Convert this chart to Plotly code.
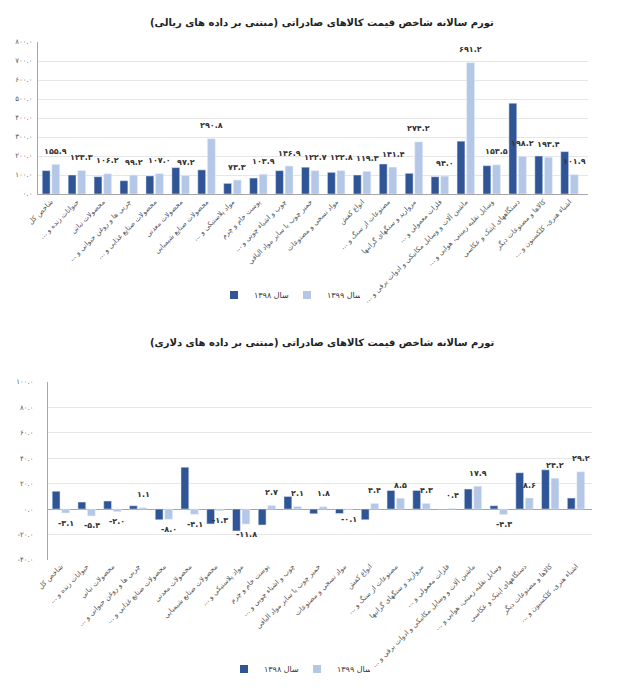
import plotly.graph_objects as go

RLM = "\u200F"

categories = [
    "شاخص کل",
    "حیوانات زنده و ...",
    "محصولات نباتی",
    "چربی ها و روغن حیوانی و ...",
    "محصولات صنایع غذایی و ...",
    "محصولات معدنی",
    "محصولات صنایع شیمیایی",
    "مواد پلاستیکی و ...",
    "پوست خام و چرم",
    "چوب و اشیاء چوبی و ...",
    "خمیر چوب یا سایر مواد الیافی",
    "مواد نسجی و مصنوعات",
    "انواع کفش",
    "مصنوعات از سنگ و ...",
    "مروارید و سنگهای گرانبها",
    "فلزات معمولی و ...",
    "ماشین آلات و وسایل مکانیکی و ادوات برقی و ...",
    "وسایل نقلیه زمینی، هوایی و ...",
    "دستگاههای اپتیک و عکاسی",
    "کالاها و مصنوعات دیگر",
    "اشیاء هنری، کلکسیون و ...",
]

# Rial based (top chart)
rial_1398 = [123, 100, 91, 70, 95, 139, 127, 56, 84, 123, 141,
             114, 100, 158, 109, 91, 278, 149, 478, 200, 223]
rial_1399 = [155.9, 123.3, 106.2, 99.2, 107.0, 97.2, 290.8, 73.3, 103.9, 146.9, 122.7,
             122.8, 119.3, 141.4, 274.2, 94.0, 691.2, 153.5, 198.2, 193.4, 101.9]

# Dollar based (bottom chart)
usd_1398 = [14.0, 5.5, 6.3, 2.6, -8.4, 32.9, -11.7, -17.2, -12.5, 9.9, -3.7,
            -3.5, -8.4, 14.6, 14.6, -0.5, 15.7, 2.6, 28.5, 30.8, 8.6]
usd_1399 = [-3.1, -5.4, -2.0, 1.1, -8.0, -4.1, -1.3, -11.8, 2.7, 2.1, 1.8,
            -0.1, 4.4, 8.5, 4.3, 0.4, 17.9, -4.3, 8.6, 24.2, 29.2]

top_ticks = [0, 100, 200, 300, 400, 500, 600, 700, 800]
bottom_ticks = [-40, -20, 0, 20, 40, 60, 80, 100]

series_names = ["سال ۱۳۹۸", "سال ۱۳۹۹"]
title_top = "تورم سالانه شاخص قیمت کالاهای صادراتی (مبتنی بر داده های ریالی)"
title_bottom = "تورم سالانه شاخص قیمت کالاهای صادراتی (مبتنی بر داده های دلاری)"

FA = str.maketrans("0123456789", "۰۱۲۳۴۵۶۷۸۹")


def fa(v):
    return f"{v:.1f}".translate(FA)


cats = [c + RLM for c in categories]

DARK = "#2F5597"
LIGHT = "#B4C7E7"
COLORS = [DARK, LIGHT]
FONT = "DejaVu Sans"
W, H = 644, 700

fig = go.Figure()
fig.add_trace(go.Bar(x=cats, y=rial_1398, name=series_names[0], marker_color=DARK,
                     xaxis="x", yaxis="y", showlegend=False))
fig.add_trace(go.Bar(x=cats, y=rial_1399, name=series_names[1], marker_color=LIGHT,
                     xaxis="x", yaxis="y", showlegend=False))
fig.add_trace(go.Bar(x=cats, y=usd_1398, name=series_names[0], marker_color=DARK,
                     xaxis="x2", yaxis="y2", showlegend=False))
fig.add_trace(go.Bar(x=cats, y=usd_1399, name=series_names[1], marker_color=LIGHT,
                     xaxis="x2", yaxis="y2", showlegend=False))

# legend entries (small square swatches)
for lg, xa, ya in [("legend", "x", "y"), ("legend2", "x2", "y2")]:
    for name, col in zip(series_names, COLORS):
        fig.add_trace(go.Scatter(x=[None], y=[None], mode="markers", name=name,
                                 marker=dict(symbol="square", size=8, color=col),
                                 xaxis=xa, yaxis=ya, legend=lg, hoverinfo="skip"))

annotations = []
for c, v in zip(cats, rial_1399):
    annotations.append(dict(x=c, y=v, xref="x", yref="y", text="<b>" + fa(v) + "</b>",
                            showarrow=False, yshift=13, xshift=5,
                            font=dict(family=FONT, size=8, color="#333")))
for c, v in zip(cats, usd_1399):
    annotations.append(dict(x=c, y=v, xref="x2", yref="y2", text="<b>" + fa(v) + "</b>",
                            showarrow=False, yshift=13 if v >= 0 else -10, xshift=5,
                            font=dict(family=FONT, size=8, color="#333")))
annotations.append(dict(x=0.5, y=1 - 15 / H, xref="paper", yref="paper",
                        text="<b>" + title_top + RLM + "</b>", showarrow=False,
                        font=dict(family=FONT, size=10, color="#222")))
annotations.append(dict(x=0.5, y=1 - 343 / H, xref="paper", yref="paper",
                        text="<b>" + title_bottom + RLM + "</b>", showarrow=False,
                        font=dict(family=FONT, size=10, color="#222")))

tickfont = dict(family=FONT, size=7, color="#555")
legfont = dict(family=FONT, size=8, color="#333")

fig.update_layout(
    width=W, height=H,
    margin=dict(l=0, r=0, t=0, b=0),
    paper_bgcolor="white", plot_bgcolor="white",
    barmode="group", bargap=0.26, bargroupgap=0.18,
    annotations=annotations,
    xaxis=dict(domain=[38 / W, 588 / W], anchor="y", tickangle=-45, tickfont=tickfont,
               showline=True, linecolor="#A6A6A6", linewidth=1, ticks="", automargin=False),
    yaxis=dict(domain=[1 - 194 / H, 1 - 42 / H], anchor="x", range=[0, 800],
               tickvals=top_ticks, ticktext=[fa(t) for t in top_ticks], tickfont=tickfont,
               showgrid=True, gridcolor="#E6E6E6", zeroline=False,
               showline=True, linecolor="#A6A6A6", linewidth=1, automargin=False,
               ticks="outside", ticklen=3, tickcolor="rgba(0,0,0,0)"),
    xaxis2=dict(domain=[48 / W, 592 / W], anchor="y2", tickangle=-45, tickfont=tickfont,
                showline=False, ticks="", automargin=False),
    yaxis2=dict(domain=[1 - 560 / H, 1 - 381.7 / H], anchor="x2", range=[-40, 100],
                tickvals=bottom_ticks, ticktext=[fa(t) for t in bottom_ticks], tickfont=tickfont,
                showgrid=True, gridcolor="#E6E6E6", zeroline=True, zerolinecolor="#A6A6A6",
                zerolinewidth=1, showline=True, linecolor="#A6A6A6", linewidth=1,
                automargin=False, ticks="outside", ticklen=12, tickcolor="rgba(0,0,0,0)"),
    legend=dict(orientation="h", x=287 / W, xanchor="center", y=1 - 295 / H, yanchor="middle",
                font=legfont, itemwidth=30, bgcolor="rgba(0,0,0,0)",
                entrywidth=28, tracegroupgap=0),
    legend2=dict(orientation="h", x=297 / W, xanchor="center", y=1 - 669 / H, yanchor="middle",
                 font=legfont, itemwidth=30, bgcolor="rgba(0,0,0,0)",
                 entrywidth=28, tracegroupgap=0),
)

fig.write_html("out.html")
